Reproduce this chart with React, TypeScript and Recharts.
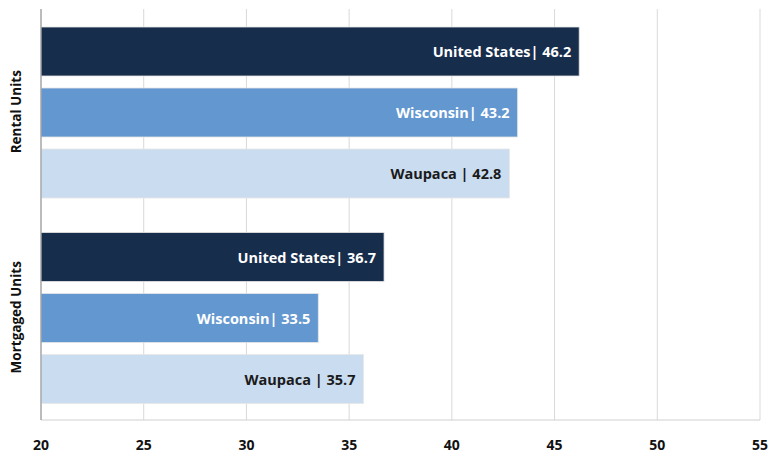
import { Bar, BarChart, CartesianGrid, LabelList, XAxis, YAxis } from 'recharts';

const categories = ['Rental Units', 'Mortgaged Units'];
const unitedStates = [46.2, 36.7];
const wisconsin = [43.2, 33.5];
const waupaca = [42.8, 35.7];
const xTicks = [20, 25, 30, 35, 40, 45, 50, 55];

const series = [
  { key: 'us', label: 'United States|', values: unitedStates, color: '#172d4c', text: '#ffffff' },
  { key: 'wi', label: 'Wisconsin|', values: wisconsin, color: '#6397d0', text: '#ffffff' },
  { key: 'wp', label: 'Waupaca |', values: waupaca, color: '#cadcf0', text: '#1a1a1a' },
];

const data = categories.map((name, i) => {
  const row: Record<string, string | number> = { name };
  series.forEach((s) => (row[s.key] = s.values[i]));
  return row;
});

const FONT = '"Open Sans", Lato, sans-serif';

function CategoryTick({ y, payload }: any) {
  return (
    <text
      x={16}
      y={y}
      transform={`rotate(-90, 16, ${y})`}
      textAnchor="middle"
      dominantBaseline="central"
      fontFamily={FONT}
      fontWeight={700}
      fontSize={13.5}
      fill="#111"
    >
      {payload.value}
    </text>
  );
}

function makeLabel(prefix: string, color: string) {
  return function BarLabel({ x, y, width, height, value }: any) {
    return (
      <text
        x={x + width - 8}
        y={y + height / 2}
        textAnchor="end"
        dominantBaseline="central"
        fontFamily={FONT}
        fontWeight={700}
        fontSize={14.5}
        fill={color}
      >
        {`${prefix} ${value}`}
      </text>
    );
  };
}

export default function App() {
  return (
    <div style={{ position: 'absolute', left: 0, top: 0, background: '#fff' }}>
      <BarChart
        width={769}
        height={456}
        data={data}
        layout="vertical"
        margin={{ top: 9, right: 9, bottom: 0, left: 0 }}
        barGap={12}
        barCategoryGap={18}
      >
        <CartesianGrid horizontal={false} stroke="#d9d9d9" />
        <XAxis
          type="number"
          domain={[20, 55]}
          ticks={xTicks}
          allowDataOverflow
          axisLine={{ stroke: '#d0d0d0' }}
          tickLine={false}
          tickMargin={14}
          height={36}
          tick={{ fontFamily: FONT, fontWeight: 700, fontSize: 14, fill: '#111' }}
        />
        <YAxis
          type="category"
          dataKey="name"
          width={41}
          axisLine={{ stroke: '#8c8c8c' }}
          tickLine={false}
          tick={<CategoryTick />}
        />
        {series.map((s) => (
          <Bar key={s.key} dataKey={s.key} fill={s.color} stroke="#e6e6e6" strokeWidth={0.8} isAnimationActive={false}>
            <LabelList dataKey={s.key} content={makeLabel(s.label, s.text)} />
          </Bar>
        ))}
      </BarChart>
    </div>
  );
}
